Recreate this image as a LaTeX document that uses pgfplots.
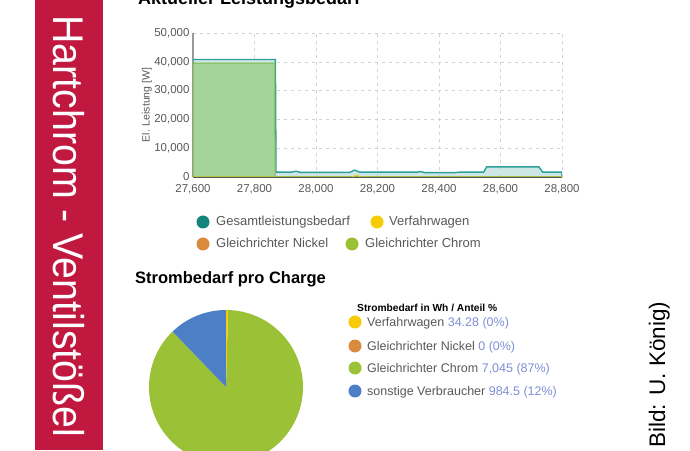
\documentclass[border=0pt]{standalone}
\usepackage{pgfplots}
\pgfplotsset{compat=1.18}
\usepackage{fontspec}
\setmainfont{Liberation Sans}

\definecolor{sidebar}{HTML}{C1183F}
\definecolor{tealline}{HTML}{2E9E9A}
\definecolor{tealdot}{HTML}{13857D}
\definecolor{tealfill}{HTML}{B8DEDE}
\definecolor{greenfill}{HTML}{A5D49A}
\definecolor{greenline}{HTML}{78BE4A}
\definecolor{piegreen}{HTML}{9BC236}
\definecolor{pieyellow}{HTML}{F7CB05}
\definecolor{pieorange}{HTML}{D98A3D}
\definecolor{pieblue}{HTML}{4C7FC6}
\definecolor{txtgray}{HTML}{595959}
\definecolor{valcol}{HTML}{7F8FD6}

% Strombedarf pro Charge (Wh)
\def\vWagen{34.28}
\def\vNickel{0}
\def\vChrom{7045}
\def\vSonst{984.5}

\begin{document}
\begin{tikzpicture}
\clip (0pt,0pt) rectangle (690pt,450pt);
\begin{scope}[x=1pt,y=1pt]
\fill[white] (0,0) rectangle (690,450);

% Seitenleiste
\fill[sidebar] (35,0) rectangle (103,450);
\node[rotate=-90, anchor=base west, text=white, inner sep=0pt] at (53,435)
  {\fontsize{43}{43}\selectfont\scalebox{0.915}[1]{Hartchrom - Ventilstößel}};

% Aktueller Leistungsbedarf
\node[anchor=base west, inner sep=0pt] at (138,445)
  {\fontsize{18}{18}\selectfont\bfseries Aktueller Leistungsbedarf};

% Strombedarf pro Charge
\node[anchor=base west, inner sep=0pt] at (135,167)
  {\fontsize{16.5}{16.5}\selectfont\bfseries Strombedarf pro Charge};
\end{scope}

\begin{axis}[
    at={(193pt,273pt)}, anchor=south west,
    scale only axis, width=369pt, height=144pt,
    xmin=27600, xmax=28800,
    ymin=0, ymax=50000,
    xtick={27600,27800,...,28800},
    ytick={0,10000,...,50000},
    scaled ticks=false,
    /pgf/number format/.cd, 1000 sep={,}, assume math mode=true, /pgfplots/.cd,
    grid=major,
    grid style={dash pattern=on 3pt off 4pt, gray!35},
    axis x line*=bottom, axis y line*=left,
    x axis line style={draw=black!65, line width=1.8pt},
    y axis line style={draw=gray!80, line width=1.2pt},
    major tick length=0pt,
    tick label style={font=\fontsize{11.5}{12}\selectfont, text=txtgray},
    xticklabel style={yshift=-4pt},
    ylabel={El. Leistung [W]},
    ylabel style={at={(axis description cs:-0.125,0.5)}, anchor=center,
      font=\fontsize{10.5}{11}\selectfont, text=txtgray},
]
\addplot[draw=tealline, fill=tealfill, fill opacity=0.7, line width=1.4pt]
  coordinates {
    (27600,40800)(27868,40800)(27870,1700)(27920,1700)(27935,2000)(27950,1600)
    (28110,1600)(28125,2400)(28142,1700)(28330,1700)(28340,1900)(28355,1500)
    (28450,1500)(28470,1700)(28545,1700)(28555,3500)(28725,3500)(28737,1700)
    (28800,1700)
  } \closedcycle;
\addplot[draw=greenline, fill=greenfill, line width=1pt]
  coordinates {
    (27600,39500)(27866,39500)(27867,0)(28800,0)
  } \closedcycle;
\addplot[draw=pieyellow, line width=0.8pt]
  coordinates {
    (27600,0)(28118,0)(28132,700)(28146,0)(28800,0)
  };
\addplot[draw=pieorange, line width=0.8pt]
  coordinates {(27600,0)(28800,0)};
\end{axis}

\pgfmathsetmacro\tot{\vWagen+\vNickel+\vChrom+\vSonst}
\pgfmathsetmacro\aA{90}
\pgfmathsetmacro\aB{\aA-360*(\vWagen/\tot)}
\pgfmathsetmacro\aC{\aB-360*(\vNickel/\tot)}
\pgfmathsetmacro\aD{\aC-360*(\vChrom/\tot)}
\pgfmathsetmacro\aE{\aD-360*(\vSonst/\tot)}

\begin{axis}[
    at={(226pt,63pt)}, anchor=center,
    scale only axis, width=154pt, height=154pt,
    xmin=-1, xmax=1, ymin=-1, ymax=1,
    hide axis, clip=false,
]
\fill[piegreen] (axis cs:0,0) -- ++(\aC:77pt) arc[start angle=\aC, end angle=\aD, radius=77pt] -- cycle;
\fill[pieblue] (axis cs:0,0) -- ++(\aD:77pt) arc[start angle=\aD, end angle=\aE, radius=77pt] -- cycle;
\fill[pieyellow] (axis cs:0,0) -- ++(\aA:77pt) arc[start angle=\aA, end angle=\aB, radius=77pt] -- cycle;
\end{axis}

\begin{scope}[x=1pt,y=1pt]
% Legende oben
\begin{scope}[every node/.style={anchor=base west, inner sep=0pt, text=txtgray,
    font=\fontsize{13}{13}\selectfont}]
\fill[tealdot] (203,228) circle (6.5);
\node at (216,224) {Gesamtleistungsbedarf};
\fill[pieyellow] (377,228) circle (6.5);
\node at (389,224) {Verfahrwagen};
\fill[pieorange] (203,206) circle (6.5);
\node at (216,202) {Gleichrichter Nickel};
\fill[piegreen] (352,206) circle (6.5);
\node at (365,202) {Gleichrichter Chrom};
\end{scope}

% Legende Kreisdiagramm
\node[anchor=base west, inner sep=0pt] at (357,139)
  {\fontsize{10.2}{10}\selectfont\bfseries Strombedarf in Wh / Anteil \%};
\begin{scope}[every node/.style={anchor=base west, inner sep=0pt, text=txtgray,
    font=\fontsize{12.5}{13}\selectfont}]
\fill[pieyellow] (355,128) circle (6.5);
\node at (367,124) {Verfahrwagen \textcolor{valcol}{34.28 (0\%)}};
\fill[pieorange] (355,104) circle (6.5);
\node at (367,100) {Gleichrichter Nickel \textcolor{valcol}{0 (0\%)}};
\fill[piegreen] (355,82) circle (6.5);
\node at (367,78) {Gleichrichter Chrom \textcolor{valcol}{7,045 (87\%)}};
\fill[pieblue] (355,59) circle (6.5);
\node at (367,55) {sonstige Verbraucher \textcolor{valcol}{984.5 (12\%)}};
\end{scope}

% Bildnachweis
\node[rotate=90, anchor=base west, inner sep=0pt] at (665,2)
  {\fontsize{22.5}{23}\selectfont Bild: U. König)};
\end{scope}
\end{tikzpicture}
\end{document}
